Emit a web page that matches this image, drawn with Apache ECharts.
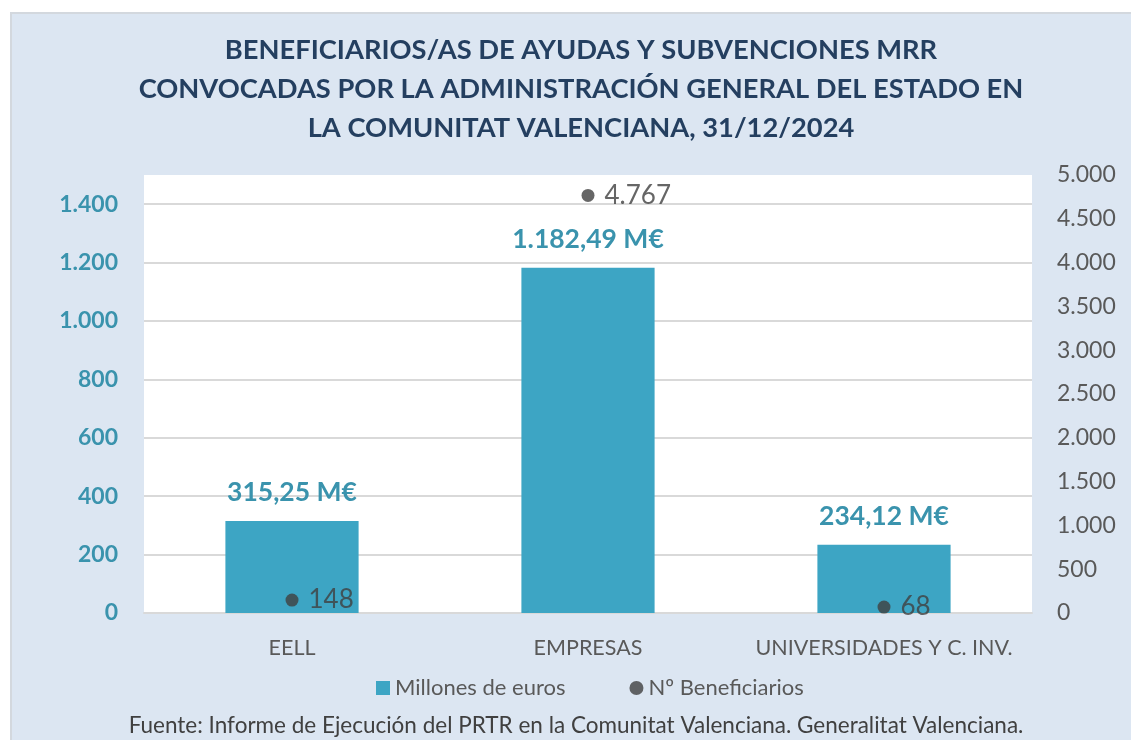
<!DOCTYPE html>
<html>
<head>
<meta charset="utf-8">
<script src="https://cdn.jsdelivr.net/npm/echarts@6/dist/echarts.min.js"></script>
<style>
  body { margin: 0; background: #fff; }
  #panel {
    position: absolute; left: 10px; top: 12px; width: 1119px; height: 726px;
    background: #DCE6F2; border-left: 2px solid #D3D8DE; border-top: 2px solid #D3D8DE;
  }
  #chart { position: absolute; left: 0; top: 0; width: 1131px; height: 740px; }
</style>
</head>
<body>
<div id="panel"></div>
<div id="chart"></div>
<script>
  // datos
  const categories = ['EELL', 'EMPRESAS', 'UNIVERSIDADES Y C. INV.'];
  const millones = [315.25, 1182.49, 234.12];
  const beneficiarios = [148, 4767, 68];

  const titleLines = [
    'BENEFICIARIOS/AS DE AYUDAS Y SUBVENCIONES MRR',
    'CONVOCADAS POR LA ADMINISTRACIÓN GENERAL DEL ESTADO EN',
    'LA COMUNITAT VALENCIANA, 31/12/2024'
  ];
  const fuente = 'Fuente: Informe de Ejecución del PRTR en la Comunitat Valenciana. Generalitat Valenciana.';

  const FONT = 'Lato, "Open Sans", sans-serif';

  // formato español: 1.182,49
  const fmt = (v, dec) => {
    const parts = v.toFixed(dec).split('.');
    parts[0] = parts[0].replace(/\B(?=(\d{3})+(?!\d))/g, '.');
    return parts.join(',');
  };

  const chart = echarts.init(document.getElementById('chart'));

  // título: una línea por elemento, centradas en x=581
  const titleGraphics = titleLines.map((t, i) => ({
    type: 'text', x: 581, y: 50 + i * 39,
    style: {
      text: t, fill: '#243F60', font: 'bold 27.3px ' + FONT,
      align: 'center', verticalAlign: 'middle'
    }
  }));

  chart.setOption({
    backgroundColor: 'transparent',
    textStyle: { fontFamily: FONT },
    graphic: titleGraphics.concat([
      {
        type: 'text', x: 576, y: 726,
        style: {
          text: fuente, fill: '#404040', font: '22.5px ' + FONT,
          align: 'center', verticalAlign: 'middle'
        }
      }
    ]),
    legend: {
      top: 672,
      left: 371,
      itemGap: 64,
      itemWidth: 14,
      itemHeight: 14,
      textStyle: { color: '#595959', fontSize: 22, fontFamily: FONT },
      data: [
        { name: 'Millones de euros', icon: 'rect' },
        { name: 'Nº Beneficiarios', icon: 'circle' }
      ]
    },
    grid: {
      left: 144, top: 175, width: 888, height: 438,
      show: true, backgroundColor: '#fff', borderWidth: 0
    },
    xAxis: {
      type: 'category',
      data: categories,
      axisLine: { show: true, lineStyle: { color: '#D9D9D9', width: 2 } },
      axisTick: { show: false },
      axisLabel: { color: '#595959', fontSize: 21.5, margin: 24, interval: 0, fontFamily: FONT }
    },
    yAxis: [
      {
        type: 'value', min: 0, max: 1500, interval: 200,
        axisLine: { show: false }, axisTick: { show: false },
        axisLabel: {
          color: '#3A93AD', fontSize: 23, fontWeight: 'bold', margin: 26,
          showMaxLabel: false, fontFamily: FONT,
          formatter: v => fmt(v, 0)
        },
        splitLine: { show: true, showMaxLine: false, lineStyle: { color: '#D9D9D9', width: 2 } }
      },
      {
        type: 'value', min: 0, max: 5000, interval: 500,
        axisLine: { show: false }, axisTick: { show: false },
        axisLabel: {
          color: '#595959', fontSize: 23, margin: 25, fontFamily: FONT,
          formatter: v => fmt(v, 0)
        },
        splitLine: { show: false }
      }
    ],
    series: [
      {
        name: 'Millones de euros',
        type: 'bar',
        yAxisIndex: 0,
        data: millones,
        barWidth: '45%',
        itemStyle: { color: '#3DA5C4' },
        label: {
          show: true, position: 'top', distance: 15,
          color: '#3A93AD', fontSize: 26.5, fontWeight: 'bold', fontFamily: FONT,
          formatter: p => fmt(p.value, 2) + ' M€'
        }
      },
      {
        name: 'Nº Beneficiarios',
        type: 'scatter',
        yAxisIndex: 1,
        data: beneficiarios,
        symbol: 'circle',
        symbolSize: 13,
        itemStyle: { color: '#404040' },
        label: {
          show: true, position: 'right', distance: 10,
          color: '#404040', fontSize: 26, fontFamily: FONT,
          formatter: p => fmt(p.value, 0)
        }
      }
    ]
  });
</script>
</body>
</html>
